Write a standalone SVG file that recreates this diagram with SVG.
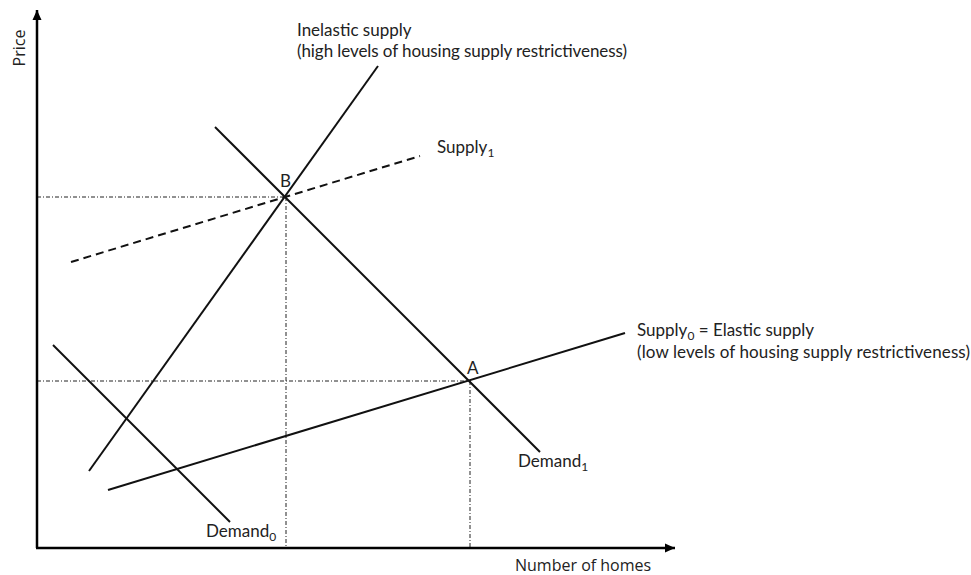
<svg xmlns="http://www.w3.org/2000/svg" width="971" height="575" viewBox="0 0 971 575">
<style>
.axis{stroke:#000;stroke-width:2.5;fill:none}
.curve{stroke:#111;stroke-width:2;fill:none;stroke-linecap:butt}
.dash{stroke:#111;stroke-width:2;fill:none;stroke-dasharray:8 5}
.guide{stroke:#222;stroke-width:1;fill:none;stroke-dasharray:4 2 1 2}
.lbl{font-family:Lato,"Liberation Sans",sans-serif;font-size:17px;fill:#222}
.ax{font-family:"Open Sans","Liberation Sans",sans-serif;font-size:16px;fill:#222}
.sub{font-size:12px}
</style>
<defs>
<marker id="arr" viewBox="0 0 10 10" refX="10" refY="5" markerWidth="10" markerHeight="10" markerUnits="userSpaceOnUse" orient="auto">
<path d="M0,0.5 L10,5 L0,9.5 Z" fill="#000"/>
</marker>
</defs>
<rect width="971" height="575" fill="#fff"/>
<g id="guides">
<line class="guide" x1="37" y1="197" x2="286" y2="197"/>
<line class="guide" x1="286" y1="197" x2="286" y2="548"/>
<line class="guide" x1="37" y1="381" x2="470" y2="381"/>
<line class="guide" x1="470" y1="381" x2="470" y2="548"/>
</g>
<g id="connectors">
<line id="inelastic-supply" class="curve" x1="89" y1="471" x2="378" y2="66"/>
<line id="demand1" class="curve" x1="215" y1="127" x2="540" y2="452"/>
<line id="supply0" class="curve" x1="108" y1="490" x2="625" y2="333"/>
<line id="supply1" class="dash" x1="71" y1="262" x2="420" y2="156"/>
<line id="demand0" class="curve" x1="53" y1="345" x2="230" y2="522"/>
</g>
<g id="axes">
<line class="axis" x1="37" y1="548" x2="37" y2="10" marker-end="url(#arr)"/>
<line class="axis" x1="36" y1="548" x2="675" y2="548" marker-end="url(#arr)"/>
<text class="ax" transform="translate(25,48) rotate(-90)" text-anchor="middle">Price</text>
<text class="ax" x="515" y="571">Number of homes</text>
</g>
<g id="label-inelastic">
<text class="lbl" x="297" y="36">Inelastic supply</text>
<text class="lbl" x="297" y="57" textLength="330">(high levels of housing supply restrictiveness)</text>
</g>
<g id="label-supply1"><text class="lbl" x="437" y="153">Supply<tspan class="sub" dy="4">1</tspan></text></g>
<g id="point-B"><text class="lbl" x="280" y="187">B</text></g>
<g id="point-A"><text class="lbl" x="467" y="374">A</text></g>
<g id="label-supply0">
<text class="lbl" x="637" y="336">Supply<tspan class="sub" dy="4">0</tspan><tspan dy="-4"> = Elastic supply</tspan></text>
<text class="lbl" x="637" y="358" textLength="333">(low levels of housing supply restrictiveness)</text>
</g>
<g id="label-demand1"><text class="lbl" x="518" y="467">Demand<tspan class="sub" dy="4">1</tspan></text></g>
<g id="label-demand0"><text class="lbl" x="206" y="537">Demand<tspan class="sub" dy="4">0</tspan></text></g>
</svg>
